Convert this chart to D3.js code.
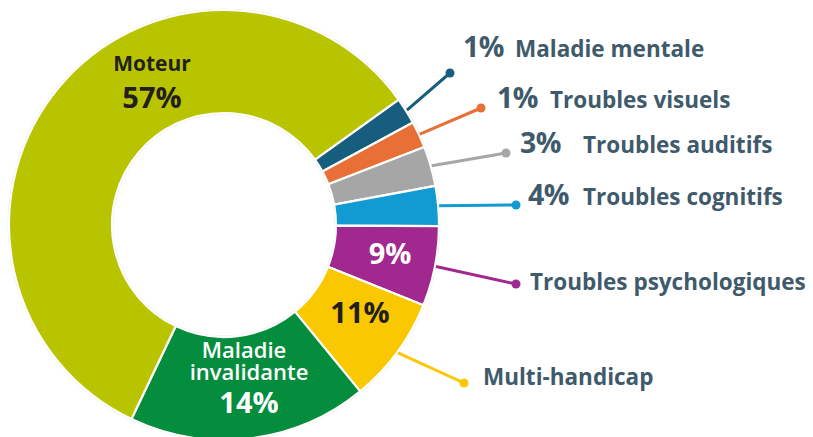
<!DOCTYPE html>
<html>
<head>
<meta charset="utf-8">
<script src="https://cdn.jsdelivr.net/npm/d3@7"></script>
<style>
  html, body { margin: 0; padding: 0; background: #fff; }
  svg text { font-family: "Open Sans", Lato, sans-serif; }
</style>
</head>
<body>
<svg id="chart" width="813" height="437"></svg>
<script>
// categories, clockwise from the top-right
const categories = ["Maladie mentale", "Troubles visuels", "Troubles auditifs", "Troubles cognitifs",
    "Troubles psychologiques", "Multi-handicap", "Maladie invalidante", "Moteur"];
// share of the ring each slice takes in the picture
const sliceShares = [2, 2, 3, 3, 6, 8, 18, 58];
// percentages printed on the chart
const pctLabels = ["1%", "1%", "3%", "4%", "9%", "11%", "14%", "57%"];
const colours = ["#175e7e", "#e87036", "#a6a6a6", "#129bd2", "#a0288f", "#f9c800", "#058d3e", "#b9c400"];

// callout layout for the small slices: dot, percent text, name text
const callouts = {
    0: {dot: [450, 73], pct: [463, 57], name: [515, 57]},
    1: {dot: [481, 108], pct: [497, 108], name: [550, 108]},
    2: {dot: [506, 153], pct: [520, 153], name: [583, 153]},
    3: {dot: [516, 205], pct: [528, 205], name: [583, 205]},
    4: {dot: [516, 284], name: [530, 290]},
    5: {dot: [464, 383], name: [483, 385]}
};

const svg = d3.select("#chart");
const cx = 224, cy = 225, outerR = 215, innerR = 112;
const startAngle = 54.3 * Math.PI / 180;
const textColour = "#3e5a6b";

const g = svg.append("g").attr("transform", `translate(${cx},${cy})`);

const pie = d3.pie().sort(null).value(function (d) { return d.share; })
    .startAngle(startAngle).endAngle(startAngle + 2 * Math.PI);

const data = categories.map(function (c, i) {
    return {name: c, share: sliceShares[i], pct: pctLabels[i], colour: colours[i], idx: i};
});
const arcs = pie(data);

const arc = d3.arc().innerRadius(innerR).outerRadius(outerR);

// faint outline round the ring
g.append("circle").attr("r", outerR + 0.5).attr("fill", "none").attr("stroke", "#dcdcdc").attr("stroke-width", 1.5);
g.append("circle").attr("r", innerR - 0.5).attr("fill", "none").attr("stroke", "#dcdcdc").attr("stroke-width", 1.5);

g.selectAll("path.slice")
    .data(arcs)
  .enter()
  .append("path")
    .attr("class", "slice")
    .attr("d", arc)
    .attr("fill", function (d) { return d.data.colour; })
    .attr("stroke", "#fff")
    .attr("stroke-width", 2.2)
    .attr("stroke-linejoin", "round");

// callout leader lines and dots
const small = arcs.filter(function (d) { return callouts[d.data.idx]; });
small.forEach(function (d) {
    const c = callouts[d.data.idx];
    const mid = (d.startAngle + d.endAngle) / 2;
    const x0 = cx + (outerR + 1) * Math.sin(mid);
    const y0 = cy - (outerR + 1) * Math.cos(mid);
    svg.append("line")
        .attr("x1", x0).attr("y1", y0)
        .attr("x2", c.dot[0]).attr("y2", c.dot[1])
        .attr("stroke", d.data.colour)
        .attr("stroke-width", 3);
    svg.append("circle")
        .attr("cx", c.dot[0]).attr("cy", c.dot[1])
        .attr("r", 4.5)
        .attr("fill", d.data.colour);
    if (c.pct) {
        svg.append("text")
            .attr("x", c.pct[0]).attr("y", c.pct[1])
            .attr("font-size", 28.5).attr("font-weight", 700)
            .attr("letter-spacing", -0.5)
            .attr("fill", textColour)
            .text(d.data.pct);
    }
    svg.append("text")
        .attr("x", c.name[0]).attr("y", c.name[1])
        .attr("font-size", 22.5).attr("font-weight", 700)
        .attr("fill", textColour)
        .text(d.data.name);
});

// labels inside the ring, placed relative to the ring centre
function inside(i, lines, colour) {
    const t = g.append("text")
        .attr("text-anchor", "middle")
        .attr("fill", colour);
    lines.forEach(function (l) {
        t.append("tspan")
            .attr("x", l.at[0])
            .attr("y", l.at[1])
            .attr("font-size", l.size)
            .attr("font-weight", l.weight || 700)
            .text(l.text);
    });
}

inside(4, [{text: pctLabels[4], size: 29, at: [166, 39]}], "#fff");
inside(5, [{text: pctLabels[5], size: 29, at: [136, 98]}], "#231f20");
inside(6, [{text: "Maladie", size: 22, at: [20, 133], weight: 600},
           {text: "invalidante", size: 22, at: [25, 155], weight: 600},
           {text: pctLabels[6], size: 29, at: [25, 188]}], "#fff");
inside(7, [{text: categories[7], size: 21, at: [-72, -154]},
           {text: pctLabels[7], size: 29, at: [-72, -117]}], "#231f20");
</script>
</body>
</html>
